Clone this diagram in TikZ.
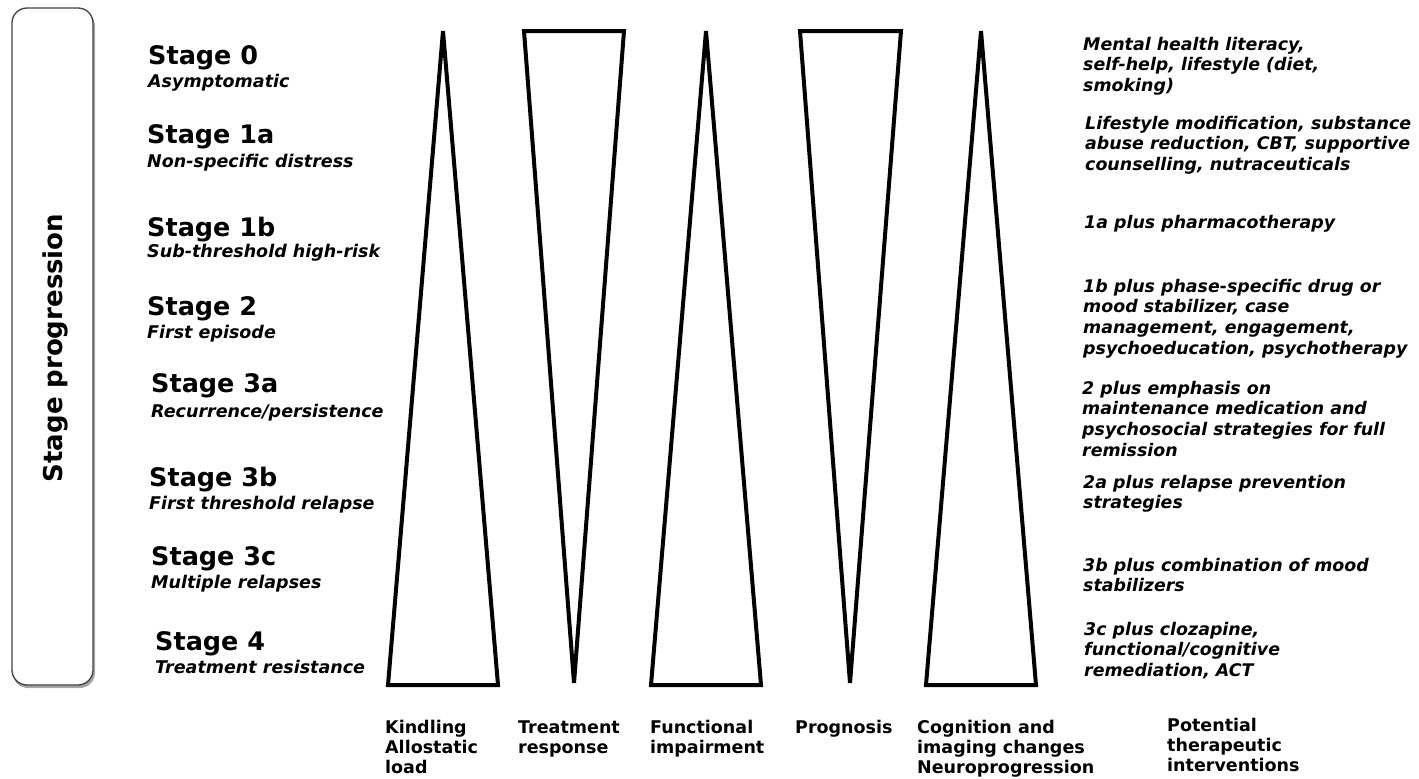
\documentclass[tikz,border=0pt]{standalone}
\usepackage{fontspec}
\setmainfont{DejaVu Sans}
\newcommand{\mlines}[1]{\begin{tabular}[t]{@{}l@{}}#1\end{tabular}}
\tikzset{
  tri/.style={draw=black, line width=4pt, line join=miter, fill=none},
  stagetitle/.style={anchor=base west, inner sep=0pt, font=\fontsize{25.5}{30}\selectfont\bfseries},
  stagesub/.style={anchor=base west, inner sep=0pt, font=\fontsize{17.5}{21}\selectfont\bfseries\itshape},
  interv/.style={anchor=base west, inner sep=0pt, font=\fontsize{17.4}{20.8}\selectfont\bfseries\itshape},
  axislabel/.style={anchor=base west, inner sep=0pt, font=\fontsize{17.5}{20}\selectfont\bfseries},
  sidebox/.style={draw=black!75, line width=1.3pt, rounded corners=15pt, fill=white},
}
\begin{document}
\begin{tikzpicture}[x=1pt, y=-1pt]
\useasboundingbox (0,0) rectangle (1419,779);
% side box with shadow
\fill[black!35, rounded corners=15pt] (13,11) rectangle (95,688);
\draw[sidebox] (12,8) rectangle (93,685);
\node[rotate=90, inner sep=0pt, font=\fontsize{26}{30}\selectfont\bfseries] (prog) at (55,348) {Stage progression};

% stages
\node[stagetitle] (s0) at (148,64) {Stage 0};
\node[stagesub] (s0s) at (148,87) {Asymptomatic};
\node[stagetitle] (s1a) at (147,143) {Stage 1a};
\node[stagesub] (s1as) at (147,167) {Non-specific distress};
\node[stagetitle] (s1b) at (147,236) {Stage 1b};
\node[stagesub] (s1bs) at (147,257) {Sub-threshold high-risk};
\node[stagetitle] (s2) at (147,315) {Stage 2};
\node[stagesub] (s2s) at (147,338) {First episode};
\node[stagetitle] (s3a) at (151,392) {Stage 3a};
\node[stagesub] (s3as) at (151,417) {Recurrence/persistence};
\node[stagetitle] (s3b) at (149,486) {Stage 3b};
\node[stagesub] (s3bs) at (149,509) {First threshold relapse};
\node[stagetitle] (s3c) at (151,565) {Stage 3c};
\node[stagesub] (s3cs) at (151,588) {Multiple relapses};
\node[stagetitle] (s4) at (155,650) {Stage 4};
\node[stagesub] (s4s) at (155,673) {Treatment resistance};

% triangles
\draw[tri] (443,31) -- (498,685) -- (388,685) -- cycle;
\draw[tri] (524,31) -- (624,31) -- (574,683) -- cycle;
\draw[tri] (706,31) -- (761,685) -- (651,685) -- cycle;
\draw[tri] (800,31) -- (901,31) -- (850,683) -- cycle;
\draw[tri] (981,31) -- (1036,685) -- (926,685) -- cycle;

% bottom labels
\node[axislabel] (l1) at (385,733) {\mlines{Kindling\\Allostatic\\load}};
\node[axislabel] (l2) at (518,733) {\mlines{Treatment\\response}};
\node[axislabel] (l3) at (650,733) {\mlines{Functional\\impairment}};
\node[axislabel] (l4) at (795,733) {\mlines{Prognosis}};
\node[axislabel] (l5) at (917,733) {\mlines{Cognition and\\imaging changes\\Neuroprogression}};
\node[axislabel] (l6) at (1167,731) {\mlines{Potential\\therapeutic\\interventions}};

% interventions
\node[interv] (i0) at (1083,50) {\mlines{Mental health literacy,\\self-help, lifestyle (diet,\\smoking)}};
\node[interv] (i1a) at (1085,129) {\mlines{Lifestyle modification, substance\\abuse reduction, CBT, supportive\\counselling, nutraceuticals}};
\node[interv] (i1b) at (1084,228) {\mlines{1a plus pharmacotherapy}};
\node[interv] (i2) at (1083,292) {\mlines{1b plus phase-specific drug or\\mood stabilizer, case\\management, engagement,\\psychoeducation, psychotherapy}};
\node[interv] (i3a) at (1082,394) {\mlines{2 plus emphasis on\\maintenance medication and\\psychosocial strategies for full\\remission}};
\node[interv] (i3b) at (1083,488) {\mlines{2a plus relapse prevention\\strategies}};
\node[interv] (i3c) at (1083,571) {\mlines{3b plus combination of mood\\stabilizers}};
\node[interv] (i4) at (1084,635) {\mlines{3c plus clozapine,\\functional/cognitive\\remediation, ACT}};
\end{tikzpicture}
\end{document}
